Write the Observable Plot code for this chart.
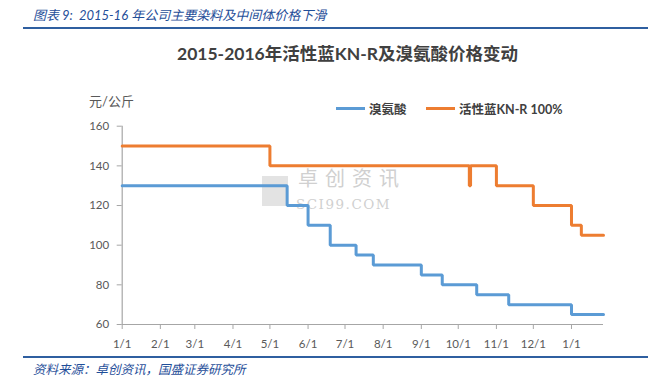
<!DOCTYPE html>
<html>
<head>
<meta charset="utf-8">
<script src="https://cdn.jsdelivr.net/npm/d3@7"></script>
<script src="https://cdn.jsdelivr.net/npm/@observablehq/plot@0.6"></script>
<style>
  html, body { margin: 0; padding: 0; background: #fff; }
  #wrap { position: relative; width: 648px; height: 386px; overflow: hidden; background: #fff;
          font-family: Lato, "Noto Sans CJK SC", sans-serif; }
  #wrap svg { position: absolute; left: 0; top: 0; }
  .abs { position: absolute; white-space: nowrap; }
  #hdr { left: 33px; top: 5px; font-size: 13px; font-style: italic; color: #1f4e99; }
  #hdrRule { left: 23px; top: 27px; width: 625px; height: 2px; background: #2f5fa0; }
  #title { left: 177px; top: 40px; font-size: 17.5px; font-weight: bold; color: #404040; }
  #unit { left: 89px; top: 91px; font-size: 13px; color: #595959; }
  .leg { top: 99px; font-size: 12.5px; font-weight: bold; color: #404040; display: flex; align-items: center; }
  .leg span.sw { display: inline-block; width: 29px; height: 3px; margin-right: 4px; }
  #src { left: 33px; top: 359px; font-size: 12.5px; font-style: italic; color: #1f4e99; }
  #srcRule { left: 23px; top: 356px; width: 625px; height: 1.5px; background: #2f5fa0; }
  #wm1 { left: 298px; top: 164px; font-size: 20px; line-height: 29px; color: #d0d0d0; letter-spacing: 7px; }
  #wm2 { left: 296px; top: 196px; font-size: 13.5px; line-height: 16px; color: #d0d0d0; font-family: "DejaVu Serif", serif; letter-spacing: 1.5px; }
  #wmBox { left: 262px; top: 176px; width: 26px; height: 30px; background: #e3e3e3; }
</style>
</head>
<body>
<div id="wrap"></div>
<script>
// ---- data ----
const seriesNames = ["溴氨酸", "活性蓝KN-R 100%"];
const seriesColors = ["#5b9bd5", "#ed7d31"];

const blueDates  = ["2015-01-01","2015-05-15","2015-06-01","2015-06-19","2015-07-10","2015-07-24","2015-09-01","2015-09-18","2015-10-16","2015-11-11","2016-01-01","2016-01-27"];
const blueValues = [130, 120, 110, 100, 95, 90, 85, 80, 75, 70, 65, 65];

const orangeDates  = ["2015-01-01","2015-05-01","2015-10-10","2015-10-11","2015-11-01","2015-12-01","2016-01-01","2016-01-09","2016-01-27"];
const orangeValues = [150, 140, 130, 140, 130, 120, 110, 105, 105];

const xTickDates  = ["2015-01-01","2015-02-01","2015-03-01","2015-04-01","2015-05-01","2015-06-01","2015-07-01","2015-08-01","2015-09-01","2015-10-01","2015-11-01","2015-12-01","2016-01-01"];
const xTickLabels = ["1/1","2/1","3/1","4/1","5/1","6/1","7/1","8/1","9/1","10/1","11/1","12/1","1/1"];
const yTicks = [60, 80, 100, 120, 140, 160];
const xStart = "2015-01-01", xEnd = "2016-01-27";

// ---- build ----
const parse = s => new Date(s + "T00:00:00Z");
const rows = [
  ...blueDates.map((d, i) => ({date: parse(d), value: blueValues[i], series: seriesNames[0]})),
  ...orangeDates.map((d, i) => ({date: parse(d), value: orangeValues[i], series: seriesNames[1]}))
];
const tickDates = xTickDates.map(parse);
const labelOf = new Map(tickDates.map((d, i) => [+d, xTickLabels[i]]));

const chart = Plot.plot({
  width: 648,
  height: 386,
  marginLeft: 121.7,
  marginRight: 45,
  marginTop: 125.7,
  marginBottom: 62,
  style: {fontFamily: 'Lato, "Noto Sans CJK SC", sans-serif', fontSize: "11.5px", background: "transparent"},
  x: {type: "utc", domain: [parse(xStart), parse(xEnd)]},
  y: {domain: [yTicks[0], yTicks[yTicks.length - 1]]},
  color: {domain: seriesNames, range: seriesColors},
  marks: [
    Plot.ruleY([yTicks[0]], {stroke: "#a6a6a6", strokeWidth: 1.2}),
    Plot.ruleX([parse(xStart)], {stroke: "#a6a6a6", strokeWidth: 1.2}),
    Plot.axisX({ticks: tickDates, tickSize: 5, tickPadding: 10, tickFormat: d => labelOf.get(+d), stroke: "#a6a6a6", fill: "#595959", label: null}),
    Plot.axisY({ticks: yTicks, tickSize: 5, tickPadding: 8, stroke: "#a6a6a6", fill: "#595959", label: null}),
    Plot.line(rows, {x: "date", y: "value", z: "series", stroke: "series", strokeWidth: 3, curve: "step-after", strokeLinejoin: "miter"})
  ]
});

const wrap = document.getElementById("wrap");
const add = (id, cls, html, style) => {
  const el = document.createElement("div");
  el.id = id || "";
  el.className = cls;
  if (html != null) el.innerHTML = html;
  if (style) Object.assign(el.style, style);
  wrap.appendChild(el);
  return el;
};
add("wmBox", "abs");
add("wm1", "abs", "卓创资讯");
add("wm2", "abs", "SCI99.COM");
wrap.appendChild(chart);
add("hdr", "abs", "图表 9:&nbsp; 2015-16 年公司主要染料及中间体价格下滑");
add("hdrRule", "abs");
add("title", "abs", "2015-2016年活性蓝KN-R及溴氨酸价格变动");
add("unit", "abs", "元/公斤");
const legX = [336, 426];
seriesNames.forEach((n, i) => {
  add("", "abs leg", `<span class="sw" style="background:${seriesColors[i]}"></span>${n}`, {left: legX[i] + "px"});
});
add("srcRule", "abs");
add("src", "abs", "资料来源：卓创资讯，国盛证券研究所");
</script>
</body>
</html>
